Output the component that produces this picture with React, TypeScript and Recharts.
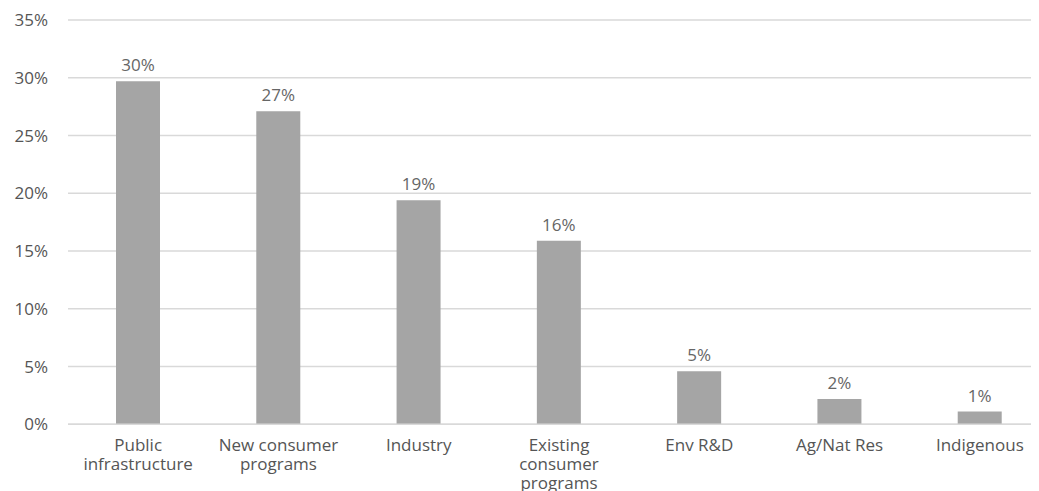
import React from "react";
import { BarChart, Bar, XAxis, YAxis, CartesianGrid, LabelList } from "recharts";

// Spending categories and their share of the total (percent)
const categories = [
  "Public infrastructure",
  "New consumer programs",
  "Industry",
  "Existing consumer programs",
  "Env R&D",
  "Ag/Nat Res",
  "Indigenous",
];

// How each category label wraps under the axis
const categoryLines = [
  ["Public", "infrastructure"],
  ["New consumer", "programs"],
  ["Industry"],
  ["Existing", "consumer", "programs"],
  ["Env R&D"],
  ["Ag/Nat Res"],
  ["Indigenous"],
];

const shares = [29.7, 27.1, 19.4, 15.9, 4.6, 2.2, 1.1];

const yTicks = [0, 5, 10, 15, 20, 25, 30, 35];

const data = categories.map((name, i) => ({ name, share: shares[i] }));

const FONT = "'Open Sans', sans-serif";
const TEXT = "#555555";

const CategoryTick = (props: any) => {
  const { x, y, payload } = props;
  const lines = categoryLines[payload.index] ?? [payload.value];
  return (
    <text
      x={x}
      y={y}
      textAnchor="middle"
      fill={TEXT}
      fontFamily={FONT}
      fontSize={17}
    >
      {lines.map((line: string, i: number) => (
        <tspan key={i} x={x} dy={i === 0 ? 27 : 19}>
          {line}
        </tspan>
      ))}
    </text>
  );
};

export default function App() {
  return (
    <div style={{ width: 1031, overflow: "hidden" }}>
      <BarChart
        width={1042}
        height={483}
        data={data}
        margin={{ top: 12, right: 0, bottom: 0, left: 0 }}
        barCategoryGap={0}
      >
        <CartesianGrid vertical={false} stroke="#d9d9d9" strokeWidth={1.5} />
        <XAxis
          dataKey="name"
          interval={0}
          axisLine={{ stroke: "#d9d9d9", strokeWidth: 1.5 }}
          tickLine={false}
          tickSize={0}
          tickMargin={0}
          height={66.7}
          tick={<CategoryTick />}
        />
        <YAxis
          domain={[0, 35]}
          ticks={yTicks}
          width={60}
          axisLine={false}
          tickLine={false}
          tickSize={0}
          tickMargin={20}
          tickFormatter={(v: number) => `${v}%`}
          tick={{ fill: TEXT, fontFamily: FONT, fontSize: 17 }}
        />
        <Bar dataKey="share" fill="#a5a5a5" barSize={44} isAnimationActive={false}>
          <LabelList
            dataKey="share"
            position="top"
            offset={10}
            formatter={(v: number) => `${Math.round(v)}%`}
            fill="#666666"
            fontFamily={FONT}
            fontSize={17}
          />
        </Bar>
      </BarChart>
    </div>
  );
}
